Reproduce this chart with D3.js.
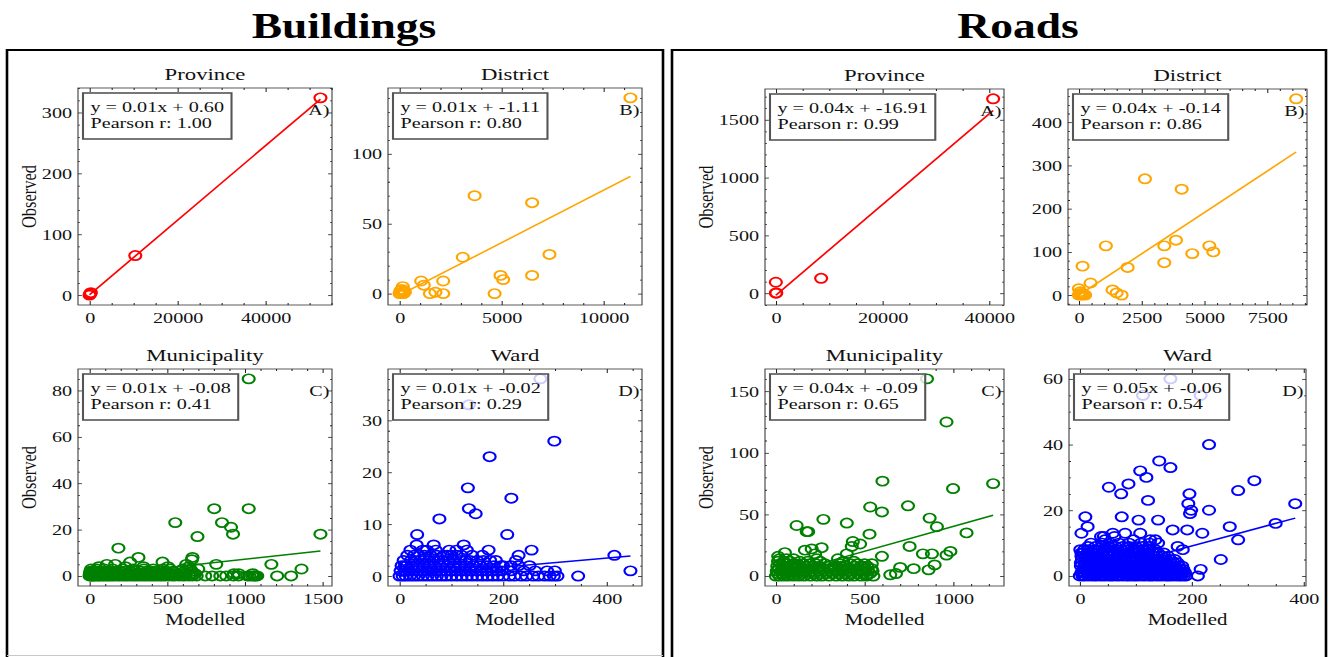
<!DOCTYPE html>
<html>
<head>
<meta charset="utf-8">
<script src="https://cdn.jsdelivr.net/npm/d3@7"></script>
<style>
  html, body { margin: 0; padding: 0; background: #fff; overflow: hidden; }
  svg { display: block; }
</style>
</head>
<body>
<svg id="chart"></svg>
<script>
// === Data ===
const groupTitles = ['Buildings', 'Roads'];
const panelNames = ['Province', 'District', 'Municipality', 'Ward'];
const panelTags = ['A)', 'B)', 'C)', 'D)'];
const panelColours = ['#ff0000', '#ffa500', '#008000', '#0000ff'];

// Buildings: [modelled, observed]
const bProvince = [[0, 0], [120, 2], [300, 4], [10400, 65], [52500, 324]];
const bDistrict = [[0, 0], [40, 2], [70, 0], [110, 3], [150, 1], [160, 5], [200, 0], [230, 2], [260, 1],
  [1060, 9], [1190, 6], [1490, 0], [1760, 1], [2140, 0], [2140, 9], [3100, 26], [3680, 70], [4660, 0],
  [4950, 13], [5080, 10], [6500, 65], [6500, 13], [7350, 28], [11320, 140]];
const bMunicipality = [
  [0, 0], [8, 0], [15, 0], [22, 0], [30, 0], [41, 0], [55, 0], [63, 0], [77, 0], [90, 0], [104, 0], [118, 0],
  [131, 0], [146, 0], [160, 0], [178, 0], [193, 0], [210, 0], [226, 0], [240, 0], [258, 0], [275, 0], [290, 0],
  [305, 0], [322, 0], [340, 0], [357, 0], [372, 0], [390, 0], [405, 0], [421, 0], [438, 0], [455, 0], [470, 0],
  [488, 0], [510, 0], [532, 0], [548, 0], [575, 0], [598, 0], [615, 0], [640, 0], [662, 0], [690, 0], [745, 0],
  [790, 0], [842, 0], [880, 0], [926, 0], [960, 0], [1016, 0], [1030, 0], [1048, 0], [1060, 0], [1068, 0],
  [1080, 0], [1208, 0], [1298, 0],
  [2, 1], [12, 1], [25, 1], [37, 1], [49, 1], [66, 1], [81, 1], [97, 1], [112, 1], [128, 1], [141, 1], [157, 1],
  [172, 1], [188, 1], [205, 1], [221, 1], [236, 1], [252, 1], [268, 1], [284, 1], [300, 1], [318, 1], [335, 1],
  [351, 1], [366, 1], [384, 1], [402, 1], [418, 1], [433, 1], [450, 1], [466, 1], [482, 1], [505, 1], [528, 1],
  [560, 1], [590, 1], [620, 1], [655, 1], [680, 1], [930, 1], [960, 1], [1050, 1],
  [5, 2], [18, 2], [33, 2], [52, 2], [70, 2], [88, 2], [110, 2], [134, 2], [152, 2], [170, 2], [199, 2], [230, 2],
  [262, 2], [296, 2], [330, 2], [368, 2], [395, 2], [425, 2], [460, 2], [495, 2], [540, 2], [610, 2], [660, 2],
  [10, 3], [45, 3], [95, 3], [150, 3], [215, 3], [280, 3], [350, 3], [410, 3], [470, 3], [520, 3], [600, 3],
  [650, 3], [700, 3], [1365, 3],
  [60, 4], [230, 4], [347, 4], [505, 4], [640, 4], [111, 5], [165, 5], [623, 5], [816, 5], [1171, 5],
  [261, 6], [470, 6], [659, 7], [315, 8], [663, 8], [186, 12], [695, 17], [924, 18], [1487, 18], [911, 21],
  [552, 23], [853, 23], [803, 29], [1025, 29], [1025, 85]];
const bWard = [
  [0, 0], [6, 0], [12, 0], [20, 0], [28, 0], [36, 0], [45, 0], [54, 0], [63, 0], [72, 0], [81, 0], [90, 0],
  [100, 0], [110, 0], [120, 0], [130, 0], [140, 0], [150, 0], [160, 0], [170, 0], [180, 0], [190, 0], [200, 0],
  [212, 0], [222, 0], [235, 0], [245, 0], [258, 0], [268, 0], [280, 0], [290, 0], [298, 0], [305, 0], [345, 0],
  [2, 1], [10, 1], [18, 1], [27, 1], [35, 1], [44, 1], [53, 1], [62, 1], [71, 1], [80, 1], [89, 1], [98, 1],
  [107, 1], [117, 1], [127, 1], [137, 1], [148, 1], [158, 1], [168, 1], [178, 1], [188, 1], [198, 1], [215, 1],
  [240, 1], [262, 1], [285, 1], [300, 1], [446, 1],
  [4, 2], [10, 2], [14, 2], [24, 2], [34, 2], [46, 2], [58, 2], [68, 2], [79, 2], [92, 2], [104, 2], [116, 2],
  [128, 2], [142, 2], [155, 2], [168, 2], [182, 2], [196, 2], [200, 2], [215, 2], [230, 2], [251, 2],
  [8, 3], [22, 3], [30, 3], [40, 3], [48, 3], [57, 3], [66, 3], [75, 3], [85, 3], [95, 3], [105, 3], [118, 3],
  [127, 3], [136, 3], [150, 3], [162, 3], [175, 3], [186, 3], [225, 3],
  [15, 4], [28, 4], [38, 4], [48, 4], [60, 4], [72, 4], [85, 4], [92, 4], [100, 4], [110, 4], [120, 4],
  [140, 4], [160, 4], [230, 4], [415, 4],
  [21, 5], [45, 5], [53, 5], [70, 5], [96, 5], [110, 5], [130, 5], [172, 5], [255, 5], [33, 6], [66, 6],
  [124, 6], [34, 8], [208, 8], [77, 11], [147, 12], [134, 13], [216, 15], [132, 17], [174, 23], [299, 26],
  [134, 33], [272, 38]];

// Roads: [modelled, observed]
const rProvince = [[0, 0], [80, 3], [0, 95], [8490, 129], [40750, 1681]];
const rDistrict = [[0, 0], [30, 3], [60, 8], [90, 0], [120, 4], [150, 1], [200, 2], [250, 0], [0, 15],
  [147, 67], [467, 28], [1077, 114], [1344, 12], [1504, 5], [1703, 0], [1942, 64], [2633, 269], [3403, 114],
  [3403, 75], [3869, 127], [4096, 245], [4519, 96], [5198, 114], [5358, 100], [8656, 454]];
const rMunicipality = [
  [0, 0], [20, 0], [45, 0], [70, 0], [100, 0], [130, 0], [160, 0], [195, 0], [230, 0], [260, 0], [300, 0],
  [340, 0], [375, 0], [410, 0], [440, 0], [480, 0], [510, 0], [550, 0],
  [10, 2], [35, 2], [60, 2], [90, 2], [120, 2], [150, 2], [185, 2], [215, 2], [250, 2], [285, 2], [320, 2],
  [355, 2], [390, 2], [425, 2], [460, 2], [495, 2], [530, 2], [645, 1], [677, 2], [513, 1],
  [5, 4], [30, 4], [55, 4], [85, 4], [115, 4], [145, 4], [175, 4], [205, 4], [240, 4], [270, 4], [310, 4],
  [345, 4], [380, 4], [415, 4], [450, 4], [490, 4], [520, 4], [545, 4],
  [15, 6], [40, 6], [75, 6], [105, 6], [140, 6], [170, 6], [200, 6], [235, 6], [265, 6], [300, 6], [335, 6],
  [370, 6], [400, 6], [435, 6], [470, 6], [505, 6], [540, 6], [861, 5], [777, 6], [701, 7],
  [8, 8], [50, 8], [95, 8], [125, 8], [165, 8], [210, 8], [245, 8], [290, 8], [330, 8], [365, 8], [395, 8],
  [445, 8], [480, 8], [515, 8], [494, 8], [895, 9],
  [25, 10], [65, 10], [110, 10], [155, 10], [190, 10], [225, 10], [275, 10], [360, 10], [420, 10], [460, 10],
  [500, 10], [98, 10], [541, 10],
  [12, 12], [45, 12], [80, 12], [135, 12], [180, 12], [250, 12], [380, 12], [440, 12],
  [20, 14], [60, 14], [100, 14], [230, 14], [350, 14], [13, 16], [598, 16],
  [221, 18], [400, 18], [829, 18], [880, 18], [962, 17], [51, 19], [164, 21], [984, 20], [202, 22], [258, 23],
  [428, 24], [754, 24], [475, 26], [434, 28], [528, 34], [1075, 35], [174, 36], [182, 36], [908, 40],
  [117, 41], [400, 43], [268, 46], [867, 47], [598, 52], [532, 56], [745, 57], [999, 71], [1225, 75],
  [601, 77], [962, 125], [852, 160]];
const rWard = [
  [0, 0], [5, 0], [9, 0], [15, 0], [21, 0], [26, 0], [30, 0], [36, 0], [41, 0], [46, 0], [52, 0], [56, 0],
  [60, 0], [66, 0], [71, 0], [77, 0], [83, 0], [87, 0], [92, 0], [97, 0], [101, 0], [106, 0], [112, 0],
  [117, 0], [123, 0], [127, 0], [131, 0], [137, 0], [142, 0], [147, 0], [153, 0], [157, 0], [161, 0],
  [166, 0], [172, 0], [177, 0], [181, 0], [186, 0], [190, 0], [211, 0],
  [3, 1], [8, 1], [14, 1], [20, 1], [26, 1], [31, 1], [35, 1], [41, 1], [47, 1], [52, 1], [58, 1], [63, 1],
  [68, 1], [74, 1], [80, 1], [85, 1], [90, 1], [96, 1], [103, 1], [108, 1], [113, 1], [119, 1], [124, 1],
  [130, 1], [136, 1], [141, 1], [146, 1], [151, 1], [157, 1], [162, 1], [168, 1], [173, 1], [178, 1],
  [183, 1], [188, 1],
  [6, 2], [11, 2], [17, 2], [23, 2], [30, 2], [36, 2], [43, 2], [48, 2], [54, 2], [60, 2], [65, 2], [71, 2],
  [78, 2], [84, 2], [89, 2], [96, 2], [102, 2], [108, 2], [115, 2], [120, 2], [126, 2], [132, 2], [137, 2],
  [143, 2], [150, 2], [155, 2], [161, 2], [168, 2], [174, 2], [180, 2], [185, 2], [216, 2],
  [2, 3], [8, 3], [15, 3], [21, 3], [28, 3], [34, 3], [40, 3], [47, 3], [55, 3], [61, 3], [67, 3], [74, 3],
  [81, 3], [87, 3], [93, 3], [99, 3], [105, 3], [112, 3], [120, 3], [126, 3], [132, 3], [138, 3], [144, 3],
  [151, 3], [158, 3], [164, 3], [171, 3], [177, 3], [183, 3],
  [2, 4], [9, 4], [15, 4], [22, 4], [29, 4], [36, 4], [43, 4], [50, 4], [57, 4], [63, 4], [70, 4], [77, 4],
  [84, 4], [92, 4], [99, 4], [107, 4], [113, 4], [119, 4], [126, 4], [134, 4], [140, 4], [147, 4], [155, 4],
  [162, 4], [168, 4], [175, 4],
  [4, 5], [11, 5], [19, 5], [26, 5], [33, 5], [41, 5], [48, 5], [56, 5], [64, 5], [72, 5], [80, 5], [87, 5],
  [94, 5], [102, 5], [110, 5], [117, 5], [124, 5], [131, 5], [139, 5], [147, 5], [155, 5], [162, 5],
  [170, 5], [252, 5],
  [3, 6], [11, 6], [19, 6], [27, 6], [35, 6], [43, 6], [51, 6], [58, 6], [67, 6], [75, 6], [83, 6], [91, 6],
  [98, 6], [106, 6], [114, 6], [122, 6], [130, 6], [139, 6], [148, 6], [158, 6],
  [3, 7], [6, 7], [15, 7], [24, 7], [33, 7], [41, 7], [51, 7], [60, 7], [69, 7], [78, 7], [87, 7], [97, 7],
  [105, 7], [113, 7], [122, 7], [131, 7], [140, 7], [150, 7],
  [1, 8], [8, 8], [15, 8], [25, 8], [35, 8], [45, 8], [55, 8], [65, 8], [74, 8], [85, 8], [96, 8], [105, 8],
  [114, 8], [124, 8], [135, 8], [184, 8],
  [15, 9], [28, 9], [40, 9], [52, 9], [64, 9], [77, 9], [88, 9], [100, 9], [112, 9], [124, 9], [175, 9],
  [20, 10], [40, 10], [55, 10], [70, 10], [88, 10], [109, 10], [125, 10], [140, 10],
  [45, 11], [96, 11], [126, 11], [135, 11], [283, 11],
  [38, 12], [62, 12], [43, 12], [3, 13], [59, 13], [81, 13], [108, 13], [192, 14], [219, 13], [166, 14],
  [14, 15], [268, 15], [350, 16], [105, 17], [140, 17], [10, 18], [75, 18], [197, 19], [199, 20], [231, 20],
  [194, 22], [385, 22], [122, 23], [74, 25], [196, 25], [283, 26], [52, 27], [87, 28], [312, 29], [119, 30],
  [108, 32], [162, 33], [142, 35], [231, 40], [113, 55], [216, 55], [162, 60]];

// Fitted lines and their labels
const bSlope = [0.00612, 0.0075, 0.0073, 0.00868];
const bIntercept = [0.60, -1.11, -0.08, -0.02];
const bEquation = ['y = 0.01x + 0.60', 'y = 0.01x + -1.11', 'y = 0.01x + -0.08', 'y = 0.01x + -0.02'];
const bPearson = ['1.00', '0.80', '0.41', '0.29'];
const rSlope = [0.0392, 0.03825, 0.0403, 0.0459];
const rIntercept = [-16.91, -0.14, -0.09, -0.06];
const rEquation = ['y = 0.04x + -16.91', 'y = 0.04x + -0.14', 'y = 0.04x + -0.09', 'y = 0.05x + -0.06'];
const rPearson = ['0.99', '0.86', '0.65', '0.54'];

// Tick values
const bXTicks = [[0, 20000, 40000], [0, 5000, 10000], [0, 500, 1000, 1500], [0, 200, 400]];
const bYTicks = [[0, 100, 200, 300], [0, 50, 100], [0, 20, 40, 60, 80], [0, 10, 20, 30]];
const rXTicks = [[0, 20000, 40000], [0, 2500, 5000, 7500], [0, 500, 1000], [0, 200, 400]];
const rYTicks = [[0, 500, 1000, 1500], [0, 100, 200, 300, 400], [0, 50, 100, 150], [0, 20, 40, 60]];
const bXMinor = [5000, 1000, 100, 50];
const bYMinor = [20, 10, 5, 2];
const rXMinor = [5000, 500, 100, 50];
const rYMinor = [100, 20, 10, 5];

// === Layout (screen pixels) ===
const W = 1329, H = 657;
const S = 1.3;   // the picture is stretched horizontally
const FONT = '"Liberation Serif", "Times New Roman", serif';

const groups = [
  {
    title: groupTitles[0], cx: 344, frame: [7, 663], ylabGap: 42,
    data: [bProvince, bDistrict, bMunicipality, bWard],
    slope: bSlope, icpt: bIntercept, eq: bEquation, r: bPearson,
    xTicks: bXTicks, yTicks: bYTicks, xMinor: bXMinor, yMinor: bYMinor,
    boxes: [[78, 332, 88, 305], [388, 642, 88, 305], [78, 332, 369, 586], [388, 642, 369, 586]]
  },
  {
    title: groupTitles[1], cx: 1018, frame: [672, 1326], ylabGap: 52,
    data: [rProvince, rDistrict, rMunicipality, rWard],
    slope: rSlope, icpt: rIntercept, eq: rEquation, r: rPearson,
    xTicks: rXTicks, yTicks: rYTicks, xMinor: rXMinor, yMinor: rYMinor,
    boxes: [[765, 1004, 89, 305], [1068, 1307, 89, 305], [765, 1004, 369, 586], [1069, 1306, 369, 586]]
  }
];

const svg = d3.select('#chart')
  .attr('width', W)
  .attr('height', H)
  .attr('viewBox', [0, 0, W / S, H])
  .attr('preserveAspectRatio', 'none');

svg.append('rect').attr('width', W / S).attr('height', H).attr('fill', '#fff');

// --- Outer frames + big titles ---
groups.forEach((grp, gi) => {
  const [fx0, fx1] = grp.frame;
  svg.append('path')
    .attr('d', `M${fx0 / S},${H + 2}V50H${fx1 / S}V${H + 2}`)
    .attr('fill', 'none')
    .attr('stroke', '#000')
    .attr('stroke-width', 2);
  if (gi === 0) {
    svg.append('line')
      .attr('x1', fx0 / S).attr('x2', fx1 / S)
      .attr('y1', 655.5).attr('y2', 655.5)
      .attr('stroke', '#c8c8c8').attr('stroke-width', 1);
  }
  svg.append('text')
    .attr('x', grp.cx / S)
    .attr('y', 38)
    .attr('text-anchor', 'middle')
    .attr('font-family', FONT)
    .attr('font-weight', 'bold')
    .attr('font-size', 35)
    .text(grp.title);
});

// --- Helpers ---
const pad5 = ([a, b]) => [a - (b - a) * 0.05, b + (b - a) * 0.05];
const minorTicks = (dom, step, majors) =>
  d3.range(Math.ceil(dom[0] / step) * step, dom[1], step)
    .filter(v => !majors.some(m => Math.abs(m - v) < step / 10));

function styleAxis(sel, withText) {
  sel.select('.domain').remove();
  sel.attr('font-family', null).attr('font-size', null);
  sel.selectAll('line').attr('stroke', '#222').attr('stroke-width', 0.8);
  sel.selectAll('text')
    .attr('font-family', FONT)
    .attr('font-size', 15.5)
    .attr('fill', '#111');
  if (!withText) sel.selectAll('text').remove();
}

function drawPanel(grp, i) {
  const [sx0, sx1, y0, y1] = grp.boxes[i];
  const x0 = sx0 / S, x1 = sx1 / S;
  const pts = grp.data[i];
  const colour = panelColours[i];
  const slope = grp.slope[i], icpt = grp.icpt[i];

  const xExt = d3.extent(pts, d => d[0]);
  const fit = xExt.map(v => [v, slope * v + icpt]);
  const all = pts.concat(fit);

  const x = d3.scaleLinear().domain(pad5(d3.extent(all, d => d[0]))).range([x0, x1]);
  const y = d3.scaleLinear().domain(pad5(d3.extent(all, d => d[1]))).range([y1, y0]);

  const g = svg.append('g');

  // points
  g.append('g').selectAll('circle')
    .data(pts)
    .join('circle')
    .attr('cx', d => x(d[0]))
    .attr('cy', d => y(d[1]))
    .attr('r', 4.6)
    .attr('fill', 'none')
    .attr('stroke', colour)
    .attr('stroke-width', 1.7);

  // fitted line
  g.append('path')
    .datum(fit)
    .attr('d', d3.line().x(d => x(d[0])).y(d => y(d[1])))
    .attr('fill', 'none')
    .attr('stroke', colour)
    .attr('stroke-width', 1.5);

  // axes frame
  g.append('rect')
    .attr('x', x0).attr('y', y0)
    .attr('width', x1 - x0).attr('height', y1 - y0)
    .attr('fill', 'none')
    .attr('stroke', '#333')
    .attr('stroke-width', 0.8);

  const xt = grp.xTicks[i], yt = grp.yTicks[i];
  const xm = minorTicks(x.domain(), grp.xMinor[i], xt);
  const ym = minorTicks(y.domain(), grp.yMinor[i], yt);

  // ticks, inward on all four sides
  g.append('g').attr('transform', `translate(0,${y1})`)
    .call(d3.axisBottom(x).tickValues(xt).tickSize(-4).tickPadding(7).tickFormat(d3.format('d')))
    .call(s => styleAxis(s, true));
  g.append('g').attr('transform', `translate(0,${y1})`)
    .call(d3.axisBottom(x).tickValues(xm).tickSize(-2))
    .call(s => styleAxis(s, false));
  g.append('g').attr('transform', `translate(0,${y0})`)
    .call(d3.axisTop(x).tickValues(xt).tickSize(-4))
    .call(s => styleAxis(s, false));
  g.append('g').attr('transform', `translate(0,${y0})`)
    .call(d3.axisTop(x).tickValues(xm).tickSize(-2))
    .call(s => styleAxis(s, false));
  g.append('g').attr('transform', `translate(${x0},0)`)
    .call(d3.axisLeft(y).tickValues(yt).tickSize(-3).tickPadding(4.6).tickFormat(d3.format('d')))
    .call(s => styleAxis(s, true));
  g.append('g').attr('transform', `translate(${x0},0)`)
    .call(d3.axisLeft(y).tickValues(ym).tickSize(-1.5))
    .call(s => styleAxis(s, false));
  g.append('g').attr('transform', `translate(${x1},0)`)
    .call(d3.axisRight(y).tickValues(yt).tickSize(-3))
    .call(s => styleAxis(s, false));
  g.append('g').attr('transform', `translate(${x1},0)`)
    .call(d3.axisRight(y).tickValues(ym).tickSize(-1.5))
    .call(s => styleAxis(s, false));

  // subplot title
  g.append('text')
    .attr('x', (x0 + x1) / 2)
    .attr('y', y0 - 8)
    .attr('text-anchor', 'middle')
    .attr('font-family', FONT)
    .attr('font-size', 17.5)
    .attr('fill', '#111')
    .text(panelNames[i]);

  // axis labels
  if (i % 2 === 0) {
    const lx = (sx0 - grp.ylabGap) / S, ly = (y0 + y1) / 2;
    g.append('text')
      .attr('transform', `translate(${lx},${ly}) rotate(-90)`)
      .attr('text-anchor', 'middle')
      .attr('font-family', FONT)
      .attr('font-size', 16.5)
      .attr('fill', '#111')
      .text('Observed');
  }
  if (i >= 2) {
    g.append('text')
      .attr('x', (x0 + x1) / 2)
      .attr('y', y1 + 39)
      .attr('text-anchor', 'middle')
      .attr('font-family', FONT)
      .attr('font-size', 16)
      .attr('fill', '#111')
      .text('Modelled');
  }

  // equation box
  const box = g.append('g');
  const bx = (sx0 + 5) / S, by = y0 + 5;
  const rect = box.append('rect');
  const t1 = box.append('text')
    .attr('x', bx + 7.5 / S).attr('y', y0 + 24)
    .attr('font-family', FONT).attr('font-size', 15.5).attr('fill', '#111')
    .text(grp.eq[i]);
  const t2 = box.append('text')
    .attr('x', bx + 7.5 / S).attr('y', y0 + 40.5)
    .attr('font-family', FONT).attr('font-size', 15.5).attr('fill', '#111')
    .text(`Pearson r: ${grp.r[i]}`);
  const tw = Math.max(t1.node().getComputedTextLength(), t2.node().getComputedTextLength());
  rect.attr('x', bx).attr('y', by)
    .attr('width', tw + 15 / S).attr('height', 46)
    .attr('fill', '#fff').attr('fill-opacity', 0.8)
    .attr('stroke', '#555').attr('stroke-width', 1.6);

  // panel tag
  g.append('text')
    .attr('x', (sx1 - 2.5) / S)
    .attr('y', y0 + 27)
    .attr('text-anchor', 'end')
    .attr('font-family', FONT)
    .attr('font-size', 15.5)
    .attr('fill', '#111')
    .text(panelTags[i]);
}

groups.forEach(grp => d3.range(4).forEach(i => drawPanel(grp, i)));
</script>
</body>
</html>
